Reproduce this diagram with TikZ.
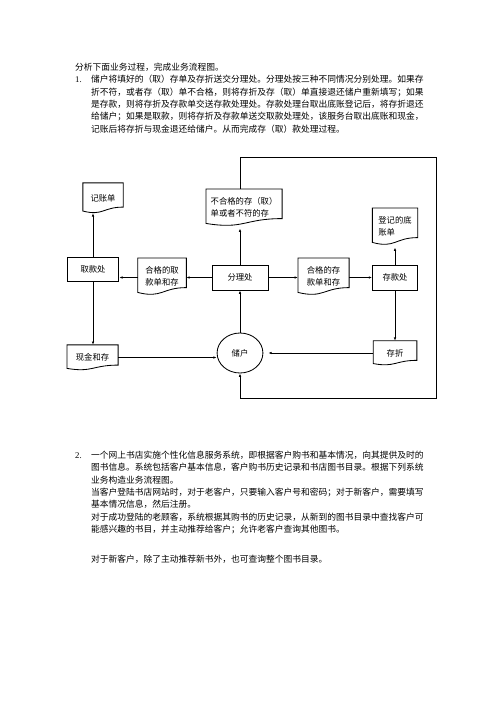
\documentclass[tikz,border=0pt]{standalone}
\usepackage{fontspec}
\setmainfont{Liberation Serif}
\newfontfamily\cjk{Noto Sans CJK SC}
\usetikzlibrary{arrows.meta,positioning,calc,shapes.geometric}

% document shape: rectangle with a wavy bottom
\newcommand{\wavedoc}[1]{%
  \draw[line width=1pt] ($(#1.north west)!.93!(#1.south west)$) -- (#1.north west)
    -- (#1.north east) -- ($(#1.north east)!.8!(#1.south east)$)
    .. controls ($(#1.north)!.8!(#1.south)$) and ($(#1.north)!1.1!(#1.south)$)
    .. ($(#1.north west)!.93!(#1.south west)$) -- cycle;}

\begin{document}
\begin{tikzpicture}[x=1.2pt, y=-1.2pt,
  box/.style={draw, line width=1pt, minimum height=30pt, inner sep=2pt,
              font=\cjk\fontsize{10}{15}\selectfont},
  docu/.style={inner sep=3pt, align=left, font=\cjk\fontsize{10}{15}\selectfont},
  arr/.style={-{Latex[length=4pt,width=3pt]}, line width=1pt},
  para/.style={anchor=base west, inner sep=0pt, font=\cjk\fontsize{10.5}{15}\selectfont},
  num/.style={anchor=base west, inner sep=0pt, font=\fontsize{10.5}{15}\selectfont}
]
\useasboundingbox (0,0) rectangle (496,702);

% task 1
\node[para] (title) at (75,70.3) {分析下面业务过程，完成业务流程图。};
\node[num] (n1) at (75,82.7) {1.};
\foreach \t [count=\i] in {
  储户将填好的（取）存单及存折送交分理处。分理处按三种不同情况分别处理。如果存,
  折不符，或者存（取）单不合格，则将存折及存（取）单直接退还储户重新填写；如果,
  是存款，则将存折及存款单交送存款处理处。存款处理台取出底账登记后，将存折退还,
  给储户；如果是取款，则将存折及存款单送交取款处理处，该服务台取出底账和现金，,
  记账后将存折与现金退还给储户。从而完成存（取）款处理过程。}
  \node[para] (a\i) at (91,70.3+12.4*\i) {\t};

% flow chart
\node[box, minimum width=62pt, minimum height=28pt] (qk) at (93,269.5) {取款处};
\node[box, minimum width=67pt] (fen) at (240,277.5) {分理处};
\node[box, minimum width=54pt] (ckc) at (395,277.5) {存款处};
\node[draw, ellipse, line width=1pt, minimum width=55pt, minimum height=48pt,
      inner sep=1pt, font=\cjk\fontsize{10}{15}\selectfont] (chuhu) at (240,353) {储户};

\node[docu, minimum width=48pt, minimum height=36pt] (jzd) at (103,198) {记账单};
\node[docu, minimum width=91pt, minimum height=44pt] (bhg) at (244,207.5)
  {不合格的存（取）\\单或者不符的存};
\node[docu, minimum width=54pt, minimum height=44pt] (djd) at (395,226.5)
  {登记的底\\账单};
\node[docu, minimum width=58pt, minimum height=44pt] (hqq) at (162,276.5)
  {合格的取\\款单和存};
\node[docu, minimum width=61pt, minimum height=44pt] (hcq) at (323.5,276.5)
  {合格的存\\款单和存};
\node[docu, minimum width=61pt, minimum height=30pt] (xj) at (92.5,357.5) {现金和存};
\node[docu, minimum width=52pt, minimum height=29pt] (cz) at (395,353) {存折};

\foreach \d in {jzd,bhg,djd,hqq,hcq,xj,cz}
  \wavedoc{\d};

\coordinate (tr) at (436,157);
\coordinate (br) at (436,398);

\draw[arr] (qk.north) -- (qk.north |- jzd.south);
\draw[arr, shorten >=3pt] (fen.north) -- (fen.north |- bhg.south);
\draw[arr, shorten >=3pt] (ckc.north) -- (djd.south);
\draw[arr] (fen.west) -- (fen.west -| hqq.east);
\draw[arr] (fen.west -| hqq.west) -- (fen.west -| qk.east);
\draw[arr] (fen.east) -- (fen.east -| hcq.west);
\draw[arr] (fen.east -| hcq.east) -- (ckc.west);
\draw[arr] (ckc.south) -- (cz.north);
\draw[arr, shorten >=6pt] (cz.west) -- (chuhu.east);
\draw[arr] (chuhu.north) -- (fen.south);
\draw[arr] (qk.south) -- (qk.south |- xj.north);
\draw[arr] (xj.east) -- (xj.east -| chuhu.west);
\draw[arr] (bhg.north -| fen.north) |- (tr) -- (br) -| (chuhu.south);

% task 2
\node[num] (n2) at (75,458.3) {2.};
\foreach \t [count=\i] in {
  一个网上书店实施个性化信息服务系统，即根据客户购书和基本情况，向其提供及时的,
  图书信息。系统包括客户基本信息，客户购书历史记录和书店图书目录。根据下列系统,
  业务构造业务流程图。,
  当客户登陆书店网站时，对于老客户，只要输入客户号和密码；对于新客户，需要填写,
  基本情况信息，然后注册。,
  对于成功登陆的老顾客，系统根据其购书的历史记录，从新到的图书目录中查找客户可,
  能感兴趣的书目，并主动推荐给客户；允许老客户查询其他图书。}
  \node[para] (b\i) at (91,445.9+12.4*\i) {\t};
\node[para] (b8) at (91,562.3) {对于新客户，除了主动推荐新书外，也可查询整个图书目录。};

\end{tikzpicture}
\end{document}
